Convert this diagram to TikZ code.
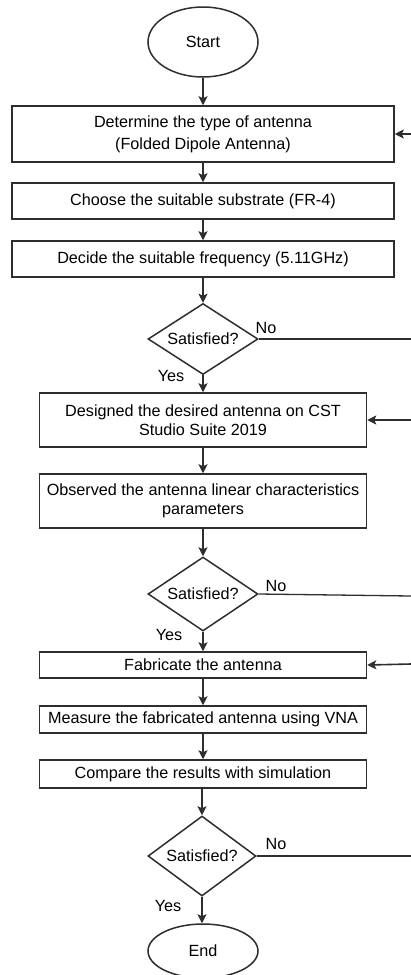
\documentclass[tikz,border=0pt]{standalone}
\usepackage{fontspec}
\setmainfont{Liberation Sans}
\usetikzlibrary{shapes.geometric,arrows.meta}
\definecolor{linec}{HTML}{2E2E2E}
\definecolor{textc}{HTML}{000000}
\begin{document}
\begin{tikzpicture}[x=1pt,y=-1pt,
  every node/.style={text=textc,font=\fontsize{16.2}{19}\selectfont},
  procbox/.style={draw=linec,line width=1.5pt,rectangle,inner sep=0pt,align=center},
  widebox/.style={procbox,minimum width=382pt},
  narrowbox/.style={procbox,minimum width=327pt},
  decision/.style={draw=linec,line width=1.5pt,diamond,inner sep=0pt,shape aspect=1.55,minimum width=110pt},
  terminal/.style={draw=linec,line width=1.5pt,ellipse,inner sep=0pt,minimum width=110pt},
  flow/.style={draw=linec,line width=1.6pt,-{Stealth[length=9pt,width=9pt,inset=2pt]}},
  plain/.style={draw=linec,line width=1.3pt},
  lbl/.style={inner sep=0pt}
]
\useasboundingbox (0,0) rectangle (411,975);
\fill[white] (0,0) rectangle (411,975);

\node[terminal,minimum height=70pt] (start) at (203,42) {Start};
\node[widebox,minimum height=56pt] (b1) at (203,134) {Determine the type of antenna\\[3pt](Folded Dipole Antenna)};
\node[widebox,minimum height=36pt] (b2) at (203,201) {Choose the suitable substrate (FR-4)};
\node[widebox,minimum height=36pt] (b3) at (203,259) {Decide the suitable frequency (5.11GHz)};
\node[decision,minimum height=71pt] (d1) at (203,339) {Satisfied?};
\node[narrowbox,minimum height=54pt] (b4) at (203,420) {Designed the desired antenna on CST\\Studio Suite 2019};
\node[narrowbox,minimum height=54pt] (b5) at (203,501) {Observed the antenna linear characteristics\\parameters};
\node[decision,minimum height=74pt] (d2) at (203,594) {Satisfied?};
\node[narrowbox,minimum height=26pt] (b6) at (203,665) {Fabricate the antenna};
\node[narrowbox,minimum height=27pt] (b7) at (203,719.5) {Measure the fabricated antenna using VNA};
\node[narrowbox,minimum height=28pt] (b8) at (203,774) {Compare the results with simulation};
\node[decision,minimum height=80pt,minimum width=108pt] (d3) at (202,856) {Satisfied?};
\node[terminal,minimum height=54pt] (end) at (203,951) {End};

\draw[flow] (start) -- (b1);
\draw[flow] (b1) -- (b2);
\draw[flow] (b2) -- (b3);
\draw[flow] (b3) -- (d1);
\draw[flow] (d1) -- (b4);
\draw[flow] (b4) -- (b5);
\draw[flow] (b5) -- (d2);
\draw[flow] (d2) -- (b6);
\draw[flow] (b6) -- (b7);
\draw[flow] (b7) -- (b8);
\draw[flow] (b8.south -| d3) -- (d3);
\draw[flow] (d3.south) -- (d3.south |- end.north);

\coordinate (r1) at (411,134);
\coordinate (r4) at (411,420);
\coordinate (r6) at (411,664);
\coordinate (n1) at (411,339);
\coordinate (n2) at (411,596);
\coordinate (n3) at (411,856);
\draw[flow] (r1) -- (b1.east);
\draw[flow] (r4) -- (b4.east);
\draw[flow] (r6) -- (b6.east);
\draw[plain] (d1.east) -- (n1);
\draw[plain] (d2.east) -- (n2);
\draw[plain] (d3.east) -- (n3);

\node[lbl] (no1) at (266,328) {No};
\node[lbl] (no2) at (276,586) {No};
\node[lbl] (no3) at (276,844) {No};
\node[lbl] (yes1) at (171,376) {Yes};
\node[lbl] (yes2) at (169,635) {Yes};
\node[lbl] (yes3) at (168,906) {Yes};
\end{tikzpicture}
\end{document}
